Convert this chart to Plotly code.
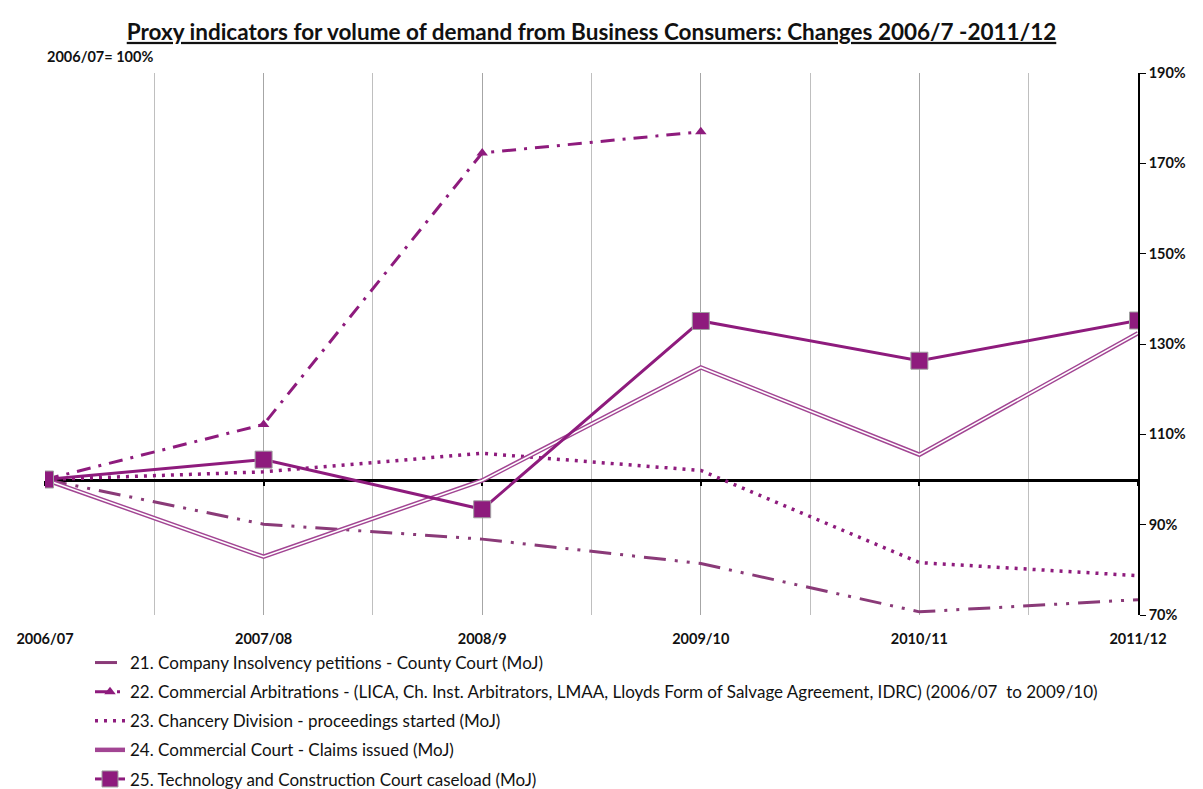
import plotly.graph_objects as go

years = ["2006/07", "2007/08", "2008/9", "2009/10", "2010/11", "2011/12"]

insolvency = [100, 90.1, 86.8, 81.4, 70.7, 73.4]
arbitrations = [100, 112.2, 172.3, 177.0, None, None]
chancery = [100, 101.7, 105.8, 102.0, 81.6, 78.7]
commercial = [100, 82.9, 99.8, 124.8, 105.5, 132.4]
tcc = [100, 104.4, 93.4, 135.1, 126.3, 135.2]

y_ticks = [70, 90, 110, 130, 150, 170, 190]

names = [
    "21. Company Insolvency petitions - County Court (MoJ)",
    "22. Commercial Arbitrations - (LICA, Ch. Inst. Arbitrators, LMAA, Lloyds Form of Salvage Agreement, IDRC) (2006/07  to 2009/10)",
    "23. Chancery Division - proceedings started (MoJ)",
    "24. Commercial Court - Claims issued (MoJ)",
    "25. Technology and Construction Court caseload (MoJ)",
]

FONT = "Lato"
PURPLE = "#8E1B7D"
x = list(range(len(years)))

fig = go.Figure()

fig.add_trace(go.Scatter(
    x=x, y=insolvency, mode="lines", name=names[0], legendgroup="g1",
    line=dict(color="#8A3A78", width=3, dash="22px,9px,3px,9px,3px,9px")))

fig.add_trace(go.Scatter(
    x=x, y=arbitrations, mode="lines+markers", name=names[1], legendgroup="g2",
    line=dict(color=PURPLE, width=3, dash="14px,8px,3px,8px"),
    marker=dict(symbol="triangle-up", size=10, color=PURPLE)))

fig.add_trace(go.Scatter(
    x=x, y=chancery, mode="lines", name=names[2], legendgroup="g3",
    line=dict(color=PURPLE, width=3.5, dash="3px,6px")))

# double line: wide purple stroke with a thin white core
fig.add_trace(go.Scatter(
    x=x, y=commercial, mode="lines", name=names[3], legendgroup="g4",
    line=dict(color="#A24593", width=4.5)))
fig.add_trace(go.Scatter(
    x=x, y=commercial, mode="lines", legendgroup="g4", showlegend=False,
    line=dict(color="white", width=1.6), hoverinfo="skip"))

fig.add_trace(go.Scatter(
    x=x, y=tcc, mode="lines+markers", name=names[4], legendgroup="g5",
    line=dict(color=PURPLE, width=3),
    marker=dict(symbol="square", size=17, color=PURPLE,
                line=dict(color="#A0A0A0", width=1))))

# 100% baseline drawn as a second x axis crossing at 100
fig.add_trace(go.Scatter(x=[0, 5], y=[100, 100], xaxis="x2", mode="lines",
                         line=dict(width=0), showlegend=False, hoverinfo="skip"))

W, H = 1203, 815
L, R, T, B = 37, 73, 65, 208
PH = H - T - B
PW = W - L - R

fig.update_layout(
    width=W, height=H,
    margin=dict(l=L, r=R, t=T, b=B),
    paper_bgcolor="white", plot_bgcolor="white",
    font=dict(family=FONT, color="#111111", size=14),
    title=dict(
        text="<b><u>Proxy indicators for volume of demand from Business Consumers: Changes 2006/7 -2011/12</u></b>",
        x=0.5, xref="paper", xanchor="center", y=1 - 24 / H, yanchor="middle",
        font=dict(size=22.5, family=FONT, color="#111111")),
    xaxis=dict(
        range=[0, 5], tickmode="array", tickvals=x, ticktext=years,
        automargin=False,
        showgrid=True, gridcolor="#A6A6A6", gridwidth=1, zeroline=False,
        showline=False, ticks="outside", ticklen=11, tickcolor="rgba(0,0,0,0)",
        tickfont=dict(size=14.5, family=FONT, weight="bold"),
        minor=dict(tickmode="array", tickvals=[0.5, 1.5, 2.5, 3.5, 4.5],
                   showgrid=True, gridcolor="#BFBFBF", gridwidth=1)),
    xaxis2=dict(
        range=[0, 5], overlaying="x", anchor="free", position=0.25,
        automargin=False,
        showline=True, linecolor="black", linewidth=2.5,
        tickmode="array", tickvals=x, ticks="outside", ticklen=5,
        tickcolor="black", tickwidth=2, showticklabels=False,
        showgrid=False, zeroline=False, layer="below traces"),
    yaxis=dict(
        range=[70, 190], side="right", tickmode="array",
        tickvals=y_ticks, ticktext=[f"{v}%" for v in y_ticks],
        automargin=False,
        showgrid=False, zeroline=False, showline=True, linecolor="black",
        linewidth=1.5, ticks="outside", ticklen=6, tickcolor="black",
        tickfont=dict(size=14.5, family=FONT, weight="bold")),
    legend=dict(
        x=45 / PW, y=-(B - 26) / PH, xanchor="left", yanchor="bottom",
        orientation="v", traceorder="grouped", tracegroupgap=4,
        itemwidth=30, bgcolor="rgba(0,0,0,0)",
        font=dict(size=17, family=FONT, color="#111111")),
    annotations=[dict(
        text="<b>2006/07= 100%</b>", xref="paper", yref="paper",
        x=0, y=1 + 16 / PH, xanchor="left", yanchor="middle",
        showarrow=False, font=dict(size=14.5, family=FONT, color="#111111"))],
    shapes=[dict(
        type="rect", xref="paper", yref="paper",
        x0=-40 / PW, y0=1 + 66 / PH, x1=2, y1=-2,
        line=dict(color="#A0A0A0", width=1), fillcolor="rgba(0,0,0,0)")],
)

fig.write_html("out.html")
